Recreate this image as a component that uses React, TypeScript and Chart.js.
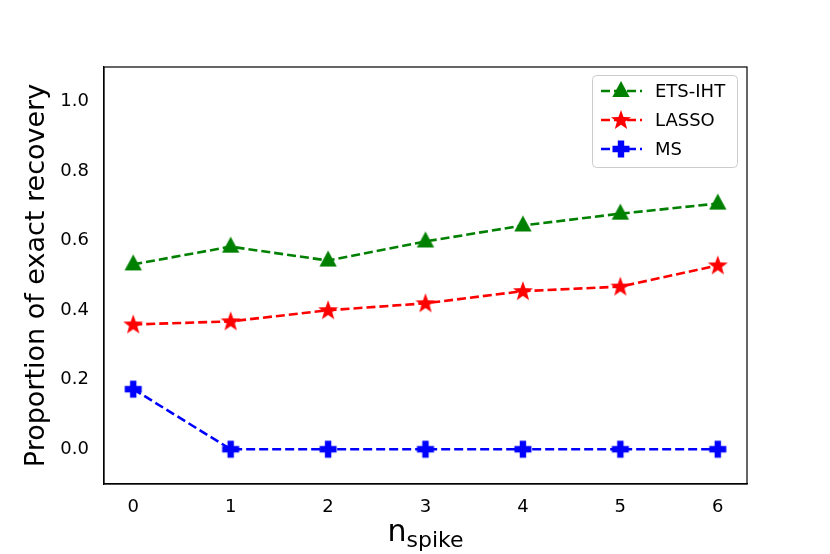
import React, { useEffect, useRef } from "react";
import { Chart, registerables } from "chart.js";

Chart.register(...registerables);

const categories = [0, 1, 2, 3, 4, 5, 6];
const etsIht = [0.532, 0.583, 0.543, 0.598, 0.644, 0.678, 0.707];
const lasso = [0.359, 0.368, 0.4, 0.42, 0.455, 0.468, 0.529];
const ms = [0.173, 0, 0, 0, 0, 0, 0];
const yTicks = [0, 0.2, 0.4, 0.6, 0.8, 1.0];
const seriesNames = ["ETS-IHT", "LASSO", "MS"];
const seriesColors = ["#008000", "#ff0000", "#0000ff"];

const FONT = "'DejaVu Sans', sans-serif";

function makeMarker(kind: string, color: string): HTMLCanvasElement {
  const s = 24;
  const c = document.createElement("canvas");
  c.width = s;
  c.height = s;
  const ctx = c.getContext("2d")!;
  ctx.fillStyle = color;
  const cx = s / 2, cy = s / 2;
  ctx.beginPath();
  if (kind === "triangle") {
    const r = 10;
    ctx.moveTo(cx, cy - r);
    ctx.lineTo(cx + r * 0.866, cy + r * 0.5 + 1);
    ctx.lineTo(cx - r * 0.866, cy + r * 0.5 + 1);
    ctx.closePath();
  } else if (kind === "star") {
    const R = 10.5, r = 4.3;
    for (let i = 0; i < 10; i++) {
      const a = -Math.PI / 2 + (i * Math.PI) / 5;
      const rr = i % 2 === 0 ? R : r;
      const x = cx + rr * Math.cos(a);
      const y = cy + 0.5 + rr * Math.sin(a);
      if (i === 0) ctx.moveTo(x, y);
      else ctx.lineTo(x, y);
    }
    ctx.closePath();
  } else {
    const h = 8.5, w = 3.2;
    ctx.moveTo(cx - w, cy - h);
    ctx.lineTo(cx + w, cy - h);
    ctx.lineTo(cx + w, cy - w);
    ctx.lineTo(cx + h, cy - w);
    ctx.lineTo(cx + h, cy + w);
    ctx.lineTo(cx + w, cy + w);
    ctx.lineTo(cx + w, cy + h);
    ctx.lineTo(cx - w, cy + h);
    ctx.lineTo(cx - w, cy + w);
    ctx.lineTo(cx - h, cy + w);
    ctx.lineTo(cx - h, cy - w);
    ctx.lineTo(cx - w, cy - w);
    ctx.closePath();
  }
  ctx.fill();
  return c;
}

export default function App() {
  const ref = useRef<HTMLCanvasElement | null>(null);

  useEffect(() => {
    const canvas = ref.current;
    if (!canvas) return;
    const markers = [
      makeMarker("triangle", seriesColors[0]),
      makeMarker("star", seriesColors[1]),
      makeMarker("plus", seriesColors[2]),
    ];
    const allSeries = [etsIht, lasso, ms];

    const datasets = allSeries.map((vals, i) => ({
      label: seriesNames[i],
      data: categories.map((x, j) => ({ x, y: vals[j] })),
      borderColor: seriesColors[i],
      backgroundColor: seriesColors[i],
      borderWidth: 2.6,
      borderDash: [9, 4],
      pointStyle: markers[i] as any,
      pointRadius: 10,
      pointHoverRadius: 10,
      tension: 0,
      fill: false,
    }));

    const frame = {
      id: "frameAndLabels",
      afterDraw(chart: any) {
        const { ctx, chartArea } = chart;
        const { left, top, right, bottom } = chartArea;
        ctx.save();
        ctx.strokeStyle = "#000";
        ctx.lineWidth = 1.2;
        ctx.strokeRect(left, top, right - left, bottom - top);

        // y title
        ctx.fillStyle = "#000";
        ctx.font = `27px ${FONT}`;
        ctx.textAlign = "center";
        ctx.textBaseline = "middle";
        ctx.save();
        ctx.translate(37, (top + bottom) / 2);
        ctx.rotate(-Math.PI / 2);
        ctx.fillText("Proportion of exact recovery", 0, 0);
        ctx.restore();

        // x title with subscript
        ctx.textBaseline = "alphabetic";
        ctx.textAlign = "left";
        ctx.font = `30px ${FONT}`;
        const nW = ctx.measureText("n").width;
        ctx.font = `22px ${FONT}`;
        const sW = ctx.measureText("spike").width;
        const total = nW + sW;
        const cx = (left + right) / 2;
        const x0 = cx - total / 2;
        ctx.font = `30px ${FONT}`;
        ctx.fillText("n", x0, 541);
        ctx.font = `22px ${FONT}`;
        ctx.fillText("spike", x0 + nW, 547);

        // legend
        const lx = 592, ly = 75, lw = 145, lh = 92;
        ctx.fillStyle = "rgba(255,255,255,0.85)";
        ctx.strokeStyle = "#cccccc";
        ctx.lineWidth = 1;
        ctx.beginPath();
        (ctx as any).roundRect(lx + 0.5, ly + 0.5, lw, lh, 4);
        ctx.fill();
        ctx.stroke();
        const rows = [91, 120, 149];
        for (let i = 0; i < 3; i++) {
          const y = rows[i];
          ctx.strokeStyle = seriesColors[i];
          ctx.lineWidth = 2.6;
          ctx.setLineDash([9, 4]);
          ctx.beginPath();
          ctx.moveTo(601, y);
          ctx.lineTo(642, y);
          ctx.stroke();
          ctx.setLineDash([]);
          ctx.drawImage(markers[i], 621 - 12, y - 12);
          ctx.fillStyle = "#000";
          ctx.font = `18px ${FONT}`;
          ctx.textBaseline = "middle";
          ctx.fillText(seriesNames[i], 655, y + 1);
        }
        ctx.restore();
      },
    };

    const chart = new Chart(canvas, {
      type: "line",
      data: { datasets: datasets as any },
      options: {
        animation: false,
        responsive: false,
        devicePixelRatio: 1,
        layout: { padding: { top: 67, right: 83, left: 0, bottom: 0 } },
        plugins: { legend: { display: false }, tooltip: { enabled: false } },
        scales: {
          x: {
            type: "linear",
            min: -0.3,
            max: 6.3,
            grid: { display: false, drawTicks: true, tickLength: 6, tickColor: "#000" } as any,
            border: { display: true, color: "#000", width: 1.2 },
            afterBuildTicks: (axis: any) => {
              axis.ticks = categories.map((v) => ({ value: v }));
            },
            afterFit: (axis: any) => {
              axis.height = 70;
            },
            ticks: {
              color: "#000",
              font: { family: FONT, size: 18 },
              padding: 7,
              maxRotation: 0,
              callback: (v: any) => String(v),
            },
          },
          y: {
            type: "linear",
            min: -0.1,
            max: 1.1,
            grid: { display: false, drawTicks: true, tickLength: 6, tickColor: "#000" } as any,
            border: { display: true, color: "#000", width: 1.2 },
            afterBuildTicks: (axis: any) => {
              axis.ticks = yTicks.map((v) => ({ value: v }));
            },
            afterFit: (axis: any) => {
              axis.width = 104;
            },
            ticks: {
              color: "#000",
              font: { family: FONT, size: 18 },
              padding: 9,
              callback: (v: any) => Number(v).toFixed(1),
            },
          },
        },
      },
      plugins: [frame],
    });
    return () => chart.destroy();
  }, []);

  return (
    <div style={{ position: "absolute", left: 0, top: 0, background: "#fff" }}>
      <canvas ref={ref} width={830} height={554} style={{ display: "block", width: 830, height: 554 }} />
    </div>
  );
}
